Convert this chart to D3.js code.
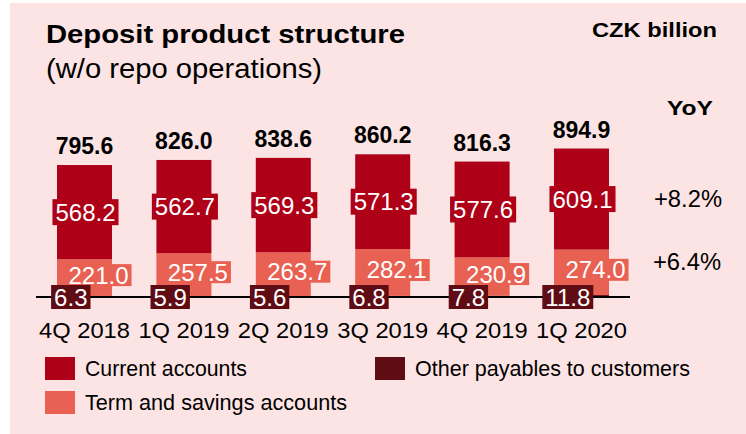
<!DOCTYPE html>
<html><head><meta charset="utf-8">
<script src="https://cdn.jsdelivr.net/npm/d3@7/dist/d3.min.js"></script>
<style>body{margin:0;background:#fff;}svg{display:block;font-family:"Liberation Sans",Arial,sans-serif;}</style>
</head><body>
<svg id="c" width="746" height="434"></svg>
<script>
const categories = ["4Q 2018","1Q 2019","2Q 2019","3Q 2019","4Q 2019","1Q 2020"];
const currentAccounts = [568.2,562.7,569.3,571.3,577.6,609.1];
const termSavings = [221.0,257.5,263.7,282.1,230.9,274.0];
const otherPayables = [6.3,5.9,5.6,6.8,7.8,11.8];
const totals = [795.6,826.0,838.6,860.2,816.3,894.9];
const yoyLabels = ["+8.2%","+6.4%"];
const seriesNames = ["Current accounts","Term and savings accounts","Other payables to customers"];

const colors = {cur:"#ae0017", term:"#e86152", oth:"#600c14"};
const svg = d3.select("#c");
svg.append("rect").attr("x",10).attr("y",3).attr("width",736).attr("height",431).attr("fill","#fce4e4");

const y = d3.scaleLinear().domain([0,1000]).range([297,297-165.9]);
const x = d3.scalePoint().domain(categories).range([84.5,581.5]);
const bw = 55;

const data = categories.map((c,i)=>({c, oth:otherPayables[i], term:termSavings[i], cur:currentAccounts[i], tot:totals[i]}));
const stack = d3.stack().keys(["oth","term","cur"])(data);

const g = svg.append("g");
stack.forEach(s=>{
  g.selectAll(null).data(s).enter().append("rect")
    .attr("x",d=>x(d.data.c)-bw/2).attr("width",bw)
    .attr("y",d=>y(d[1])).attr("height",d=>y(d[0])-y(d[1]))
    .attr("fill",colors[s.key]);
});

// axis baseline
svg.append("line").attr("x1",36).attr("x2",630).attr("y1",y(0)).attr("y2",y(0)).attr("stroke","#000").attr("stroke-width",2);

function boxLabel(cx, cy, txt, fill, h){
  const t = svg.append("text").attr("x",cx).attr("y",cy+8.5).attr("text-anchor","middle")
    .attr("font-size",24).attr("fill","#fff").text(txt);
  const w = t.node().getComputedTextLength();
  svg.insert("rect", () => t.node()).attr("x",cx-w/2-3).attr("y",cy-h/2).attr("width",w+6).attr("height",h).attr("fill",fill);
}
const curS = stack[2], termS = stack[1];
data.forEach((d,i)=>{
  const cx = x(d.c);
  boxLabel(cx+1, (y(curS[i][0])+y(curS[i][1]))/2, d.cur.toFixed(1), colors.cur, 26);
  boxLabel(cx+14, (y(termS[i][0])+y(termS[i][1]))/2-2.5, d.term.toFixed(1), colors.term, 22);
  boxLabel(cx-13.7, y(0), d.oth.toFixed(1), colors.oth, 24);
  svg.append("text").attr("x",cx).attr("y",y(d.tot)-11).attr("text-anchor","middle")
    .attr("font-size",23).attr("font-weight","bold").attr("fill","#000").text(d.tot.toFixed(1));
});

// category labels
svg.selectAll(null).data(categories).enter().append("text")
  .attr("x",d=>x(d)).attr("y",338).attr("text-anchor","middle").attr("font-size",22.5)
  .attr("textLength",91).attr("lengthAdjust","spacingAndGlyphs").attr("fill","#000").text(d=>d);

// titles
svg.append("text").attr("x",46).attr("y",43).attr("font-size",25).attr("font-weight","bold")
  .attr("textLength",359).attr("lengthAdjust","spacingAndGlyphs").text("Deposit product structure");
svg.append("text").attr("x",46).attr("y",78).attr("font-size",27)
  .attr("textLength",276).attr("lengthAdjust","spacingAndGlyphs").text("(w/o repo operations)");
svg.append("text").attr("x",592).attr("y",37).attr("font-size",21).attr("font-weight","bold")
  .attr("textLength",125).attr("lengthAdjust","spacingAndGlyphs").text("CZK billion");
svg.append("text").attr("x",667).attr("y",115).attr("font-size",21).attr("font-weight","bold")
  .attr("textLength",46).attr("lengthAdjust","spacingAndGlyphs").text("YoY");
[[654,207],[653,270]].forEach((p,i)=>{
  svg.append("text").attr("x",p[0]).attr("y",p[1]).attr("font-size",23)
    .attr("textLength",68).attr("lengthAdjust","spacingAndGlyphs").text(yoyLabels[i]);
});

// legend
const leg = [
  {n:seriesNames[0], c:colors.cur, x:45, y:357, w:162},
  {n:seriesNames[1], c:colors.term, x:45, y:391, w:262},
  {n:seriesNames[2], c:colors.oth, x:375, y:357, w:275}
];
leg.forEach(l=>{
  svg.append("rect").attr("x",l.x).attr("y",l.y).attr("width",30).attr("height",23).attr("fill",l.c);
  svg.append("text").attr("x",l.x+40).attr("y",l.y+18.5).attr("font-size",22)
    .attr("textLength",l.w).attr("lengthAdjust","spacingAndGlyphs").text(l.n);
});
</script>
</body></html>
